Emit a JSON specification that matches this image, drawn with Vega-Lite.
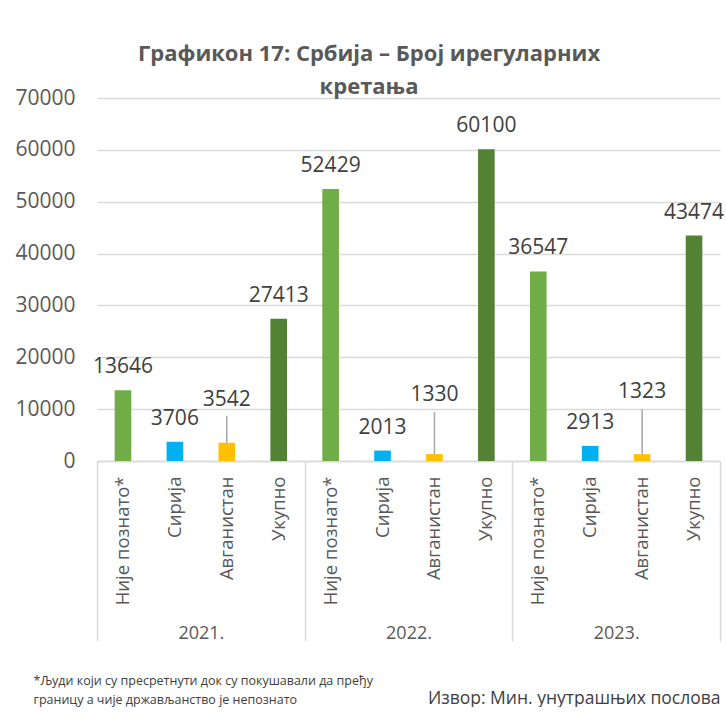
{
  "$schema": "https://vega.github.io/schema/vega-lite/v6.json",
  "width": 623,
  "height": 363,
  "padding": {"left": 14, "top": 42, "right": 6, "bottom": 0},
  "background": "white",
  "title": {
    "text": ["Графикон 17: Србија – Број ирегуларних", "кретања"],
    "font": "Open Sans",
    "fontSize": 22,
    "fontWeight": "bold",
    "color": "#595959",
    "lineHeight": 33,
    "frame": "bounds",
    "anchor": "middle",
    "offset": -11.5
  },
  "data": {
    "values": [
      {"bar": "2021.|Није познато*", "year": "2021.", "category": "Није познато*", "value": 13646},
      {"bar": "2021.|Сирија", "year": "2021.", "category": "Сирија", "value": 3706},
      {"bar": "2021.|Авганистан", "year": "2021.", "category": "Авганистан", "value": 3542},
      {"bar": "2021.|Укупно", "year": "2021.", "category": "Укупно", "value": 27413},
      {"bar": "2022.|Није познато*", "year": "2022.", "category": "Није познато*", "value": 52429},
      {"bar": "2022.|Сирија", "year": "2022.", "category": "Сирија", "value": 2013},
      {"bar": "2022.|Авганистан", "year": "2022.", "category": "Авганистан", "value": 1330},
      {"bar": "2022.|Укупно", "year": "2022.", "category": "Укупно", "value": 60100},
      {"bar": "2023.|Није познато*", "year": "2023.", "category": "Није познато*", "value": 36547},
      {"bar": "2023.|Сирија", "year": "2023.", "category": "Сирија", "value": 2913},
      {"bar": "2023.|Авганистан", "year": "2023.", "category": "Авганистан", "value": 1323},
      {"bar": "2023.|Укупно", "year": "2023.", "category": "Укупно", "value": 43474}
    ]
  },
  "layer": [
    {
      "encoding": {
        "x": {
          "field": "bar",
          "type": "nominal",
          "sort": null,
          "scale": {
            "type": "band",
            "paddingInner": 0,
            "paddingOuter": 0,
            "domain": ["2021.|Није познато*", "2021.|Сирија", "2021.|Авганистан", "2021.|Укупно", "2022.|Није познато*", "2022.|Сирија", "2022.|Авганистан", "2022.|Укупно", "2023.|Није познато*", "2023.|Сирија", "2023.|Авганистан", "2023.|Укупно"]
          },
          "axis": {
            "title": "Извор: Мин. унутрашњих послова",
            "titleFont": "Open Sans",
            "titleFontSize": 17.5,
            "titleFontWeight": "normal",
            "titleColor": "#404040",
            "titleX": 623,
            "titleY": 242,
            "titleAlign": "right",
            "titleBaseline": "alphabetic",
            "labelExpr": "split(datum.value, '|')[1]",
            "labelAngle": 270,
            "labelFont": "Open Sans",
            "labelFontSize": 18.5,
            "labelColor": "#595959",
            "labelPadding": 15,
            "labelOverlap": false,
            "ticks": false,
            "grid": false,
            "domainColor": "#D9D9D9",
            "domainWidth": 1.5
          }
        },
        "y": {
          "field": "value",
          "type": "quantitative",
          "scale": {"domain": [0, 70000], "nice": false},
          "axis": {
            "values": [0, 10000, 20000, 30000, 40000, 50000, 60000, 70000],
            "format": "d",
            "title": null,
            "domain": false,
            "ticks": false,
            "grid": true,
            "gridColor": "#D9D9D9",
            "gridWidth": 1.5,
            "labelFont": "Open Sans",
            "labelFontSize": 21,
            "labelColor": "#595959",
            "labelPadding": 22,
            "minExtent": 83,
            "maxExtent": 83
          }
        }
      },
      "layer": [
        {
          "mark": {"type": "bar", "width": {"band": 0.32}},
          "encoding": {
            "color": {
              "field": "category",
              "type": "nominal",
              "scale": {
                "domain": ["Није познато*", "Сирија", "Авганистан", "Укупно"],
                "range": ["#70AD47", "#00B0F0", "#FFC000", "#548235"]
              },
              "legend": null
            }
          }
        },
        {
          "transform": [{"filter": "datum.category !== 'Авганистан'"}],
          "mark": {"type": "text", "baseline": "alphabetic", "dy": -17, "font": "Open Sans", "fontSize": 21, "color": "#404040"},
          "encoding": {"text": {"field": "value", "type": "quantitative", "format": "d"}}
        },
        {
          "transform": [{"filter": "datum.category === 'Авганистан' && datum.year === '2021.'"}],
          "mark": {"type": "text", "baseline": "alphabetic", "dy": -37, "font": "Open Sans", "fontSize": 21, "color": "#404040"},
          "encoding": {"text": {"field": "value", "type": "quantitative", "format": "d"}}
        },
        {
          "transform": [{"filter": "datum.category === 'Авганистан' && datum.year === '2022.'"}],
          "mark": {"type": "text", "baseline": "alphabetic", "dy": -53, "font": "Open Sans", "fontSize": 21, "color": "#404040"},
          "encoding": {"text": {"field": "value", "type": "quantitative", "format": "d"}}
        },
        {
          "transform": [{"filter": "datum.category === 'Авганистан' && datum.year === '2023.'"}],
          "mark": {"type": "text", "baseline": "alphabetic", "dy": -56, "font": "Open Sans", "fontSize": 21, "color": "#404040"},
          "encoding": {"text": {"field": "value", "type": "quantitative", "format": "d"}}
        },
        {
          "transform": [{"filter": "datum.category === 'Авганистан' && datum.year === '2021.'"}],
          "mark": {"type": "rule", "color": "#A6A6A6", "strokeWidth": 1.5, "y2Offset": -27},
          "encoding": {"y2": {"field": "value"}}
        },
        {
          "transform": [{"filter": "datum.category === 'Авганистан' && datum.year === '2022.'"}],
          "mark": {"type": "rule", "color": "#A6A6A6", "strokeWidth": 1.5, "y2Offset": -42},
          "encoding": {"y2": {"field": "value"}}
        },
        {
          "transform": [{"filter": "datum.category === 'Авганистан' && datum.year === '2023.'"}],
          "mark": {"type": "rule", "color": "#A6A6A6", "strokeWidth": 1.5, "y2Offset": -45},
          "encoding": {"y2": {"field": "value"}}
        }
      ]
    },
    {
      "mark": {"type": "bar", "opacity": 0},
      "encoding": {
        "x": {
          "field": "year",
          "type": "nominal",
          "sort": null,
          "scale": {"type": "band", "paddingInner": 0, "paddingOuter": 0, "domain": ["2021.", "2022.", "2023."]},
          "axis": {
            "orient": "bottom",
            "offset": 180,
            "domain": false,
            "ticks": true,
            "tickBand": "extent",
            "tickSize": -180,
            "tickColor": "#D9D9D9",
            "tickWidth": 1.5,
            "labelAngle": 0,
            "labelPadding": 172,
            "labelBaseline": "middle",
            "labelFont": "Open Sans",
            "labelFontSize": 18,
            "labelColor": "#595959",
            "grid": false,
            "title": ["*Људи који су пресретнути док су покушавали да пређу", "\u00a0\u00a0границу а чије држављанство је непознато"],
            "titleFont": "Open Sans",
            "titleFontSize": 12.5,
            "titleFontWeight": "normal",
            "titleColor": "#404040",
            "titleX": -64,
            "titleY": 43,
            "titleAlign": "left",
            "titleBaseline": "alphabetic",
            "titleLineHeight": 19
          }
        }
      }
    }
  ],
  "resolve": {"scale": {"x": "independent"}, "axis": {"x": "independent"}},
  "config": {"view": {"stroke": null}}
}
